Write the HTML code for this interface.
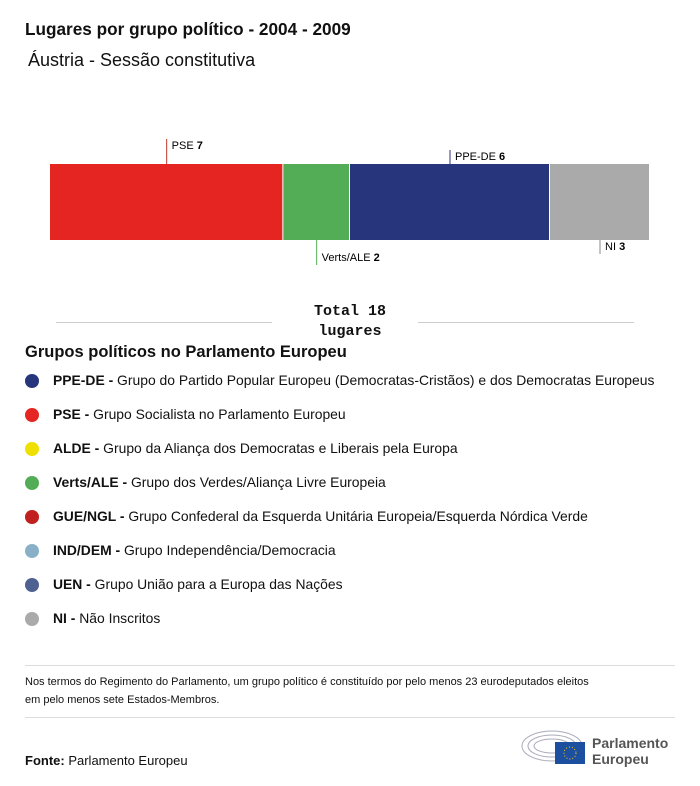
<!DOCTYPE html>
<html><head><meta charset="utf-8"><style>
body{margin:0;width:700px;height:786px;background:#fff;font-family:"Liberation Sans",sans-serif;color:#111;position:relative;overflow:hidden}
.a{position:absolute;white-space:nowrap}
.leg{position:absolute;left:25px;font-size:13.9px}
.dot{display:inline-block;width:14px;height:14px;border-radius:50%;vertical-align:-3px;margin-right:14px}
</style></head><body>
<div class="a" style="left:25px;top:19px;font-size:17.2px;font-weight:bold">Lugares por grupo político - 2004 - 2009</div>
<div class="a" style="left:28px;top:50px;font-size:18px">Áustria - Sessão constitutiva</div>
<svg id="chart" width="700" height="300" style="position:absolute;left:0;top:0"></svg>
<div class="a" style="left:56px;top:322px;width:216px;height:1px;background:#ccc"></div>
<div class="a" style="left:418px;top:322px;width:216px;height:1px;background:#ccc"></div>
<div class="a" style="left:300px;top:302px;width:100px;text-align:center;font-family:'Liberation Mono',monospace;font-weight:bold;font-size:15px;line-height:20px;white-space:normal">Total 18 lugares</div>
<div class="a" style="left:25px;top:343px;font-size:16.5px;font-weight:bold">Grupos políticos no Parlamento Europeu</div>
<div id="legend"></div>
<div class="a" style="left:25px;top:665px;width:650px;height:1px;background:#ddd"></div>
<div class="a" style="left:25px;top:673px;font-size:11px;line-height:18px;white-space:normal;width:645px">Nos termos do Regimento do Parlamento, um grupo político é constituído por pelo menos 23 eurodeputados eleitos<br>em pelo menos sete Estados-Membros.</div>
<div class="a" style="left:25px;top:717px;width:650px;height:1px;background:#ddd"></div>
<div class="a" style="left:25px;top:753px;font-size:13px"><b>Fonte:</b> Parlamento Europeu</div>
<svg class="a" style="left:520px;top:728px" width="160" height="40">
<g fill="none" stroke="#aab" stroke-width="1"><ellipse cx="32" cy="18" rx="30" ry="15"/><ellipse cx="32" cy="18" rx="24" ry="11"/><ellipse cx="32" cy="18" rx="18" ry="7"/></g>
<rect x="35" y="14" width="30" height="22" fill="#1d4fa0"/><circle cx="50" cy="25" r="6" fill="none" stroke="#fc0" stroke-dasharray="1 2"/>
<text x="72" y="20" font-size="14" font-weight="bold" fill="#555">Parlamento</text><text x="72" y="36" font-size="14" font-weight="bold" fill="#555">Europeu</text>
</svg>
<script>
const groups=["PSE","Verts/ALE","PPE-DE","NI"];
const seats=[7,2,6,3];
const colors=["#e52521","#52ad56","#27367c","#aaaaaa"];
const markerColors=["#c0392b","#52ad56","#27367c","#888"];
const svg=document.getElementById('chart');
const NS="http://www.w3.org/2000/svg";
const total=seats.reduce((a,b)=>a+b,0);
const x0=50,x1=650,y0=164,h=76;
const sx=v=>x0+(x1-x0)*v/total;
let acc=0;
const above=[true,false,true,false];
seats.forEach((v,i)=>{
 const r=document.createElementNS(NS,'rect');
 
 
 r.setAttribute('x',sx(acc));r.setAttribute('y',y0);r.setAttribute('width',sx(acc+v)-sx(acc)-1);r.setAttribute('height',h);r.setAttribute('fill',colors[i]);
 svg.appendChild(r);
 const cx=(sx(acc)+sx(acc+v))/2;
 const up=above[i];const len=(i==0||i==1)?25:14;
 const l=document.createElementNS(NS,'line');
 
 
 l.setAttribute('x1',cx);l.setAttribute('x2',cx);
 l.setAttribute('y1',up?y0-len:y0+h);l.setAttribute('y2',up?y0:y0+h+len);
 l.setAttribute('stroke',markerColors[i]);svg.appendChild(l);
 const t=document.createElementNS(NS,'text');
 
 
 t.setAttribute('x',cx+5);t.setAttribute('y',up?y0-len+10:y0+h+len-4);
 t.setAttribute('font-size','11');
 t.innerHTML=groups[i]+' <tspan font-weight="bold">'+v+'</tspan>';
 svg.appendChild(t);
 acc+=v;
});
const legAbbr=["PPE-DE","PSE","ALDE","Verts/ALE","GUE/NGL","IND/DEM","UEN","NI"];
const legText=["Grupo do Partido Popular Europeu (Democratas-Cristãos) e dos Democratas Europeus","Grupo Socialista no Parlamento Europeu","Grupo da Aliança dos Democratas e Liberais pela Europa","Grupo dos Verdes/Aliança Livre Europeia","Grupo Confederal da Esquerda Unitária Europeia/Esquerda Nórdica Verde","Grupo Independência/Democracia","Grupo União para a Europa das Nações","Não Inscritos"];
const legColors=["#27367c","#e52521","#f0e000","#52ad56","#c0201e","#8ab0c8","#4e6190","#aaaaaa"];
const leg=document.getElementById('legend');
legAbbr.forEach((a,i)=>{
 const d=document.createElement('div');
 d.className='leg';
 
 
 d.style.top=(372+34*i)+'px';
 d.innerHTML='<span class="dot" style="background:'+legColors[i]+'"></span><b>'+a+' -</b> '+legText[i];
 leg.appendChild(d);
});
</script>
</body></html>
